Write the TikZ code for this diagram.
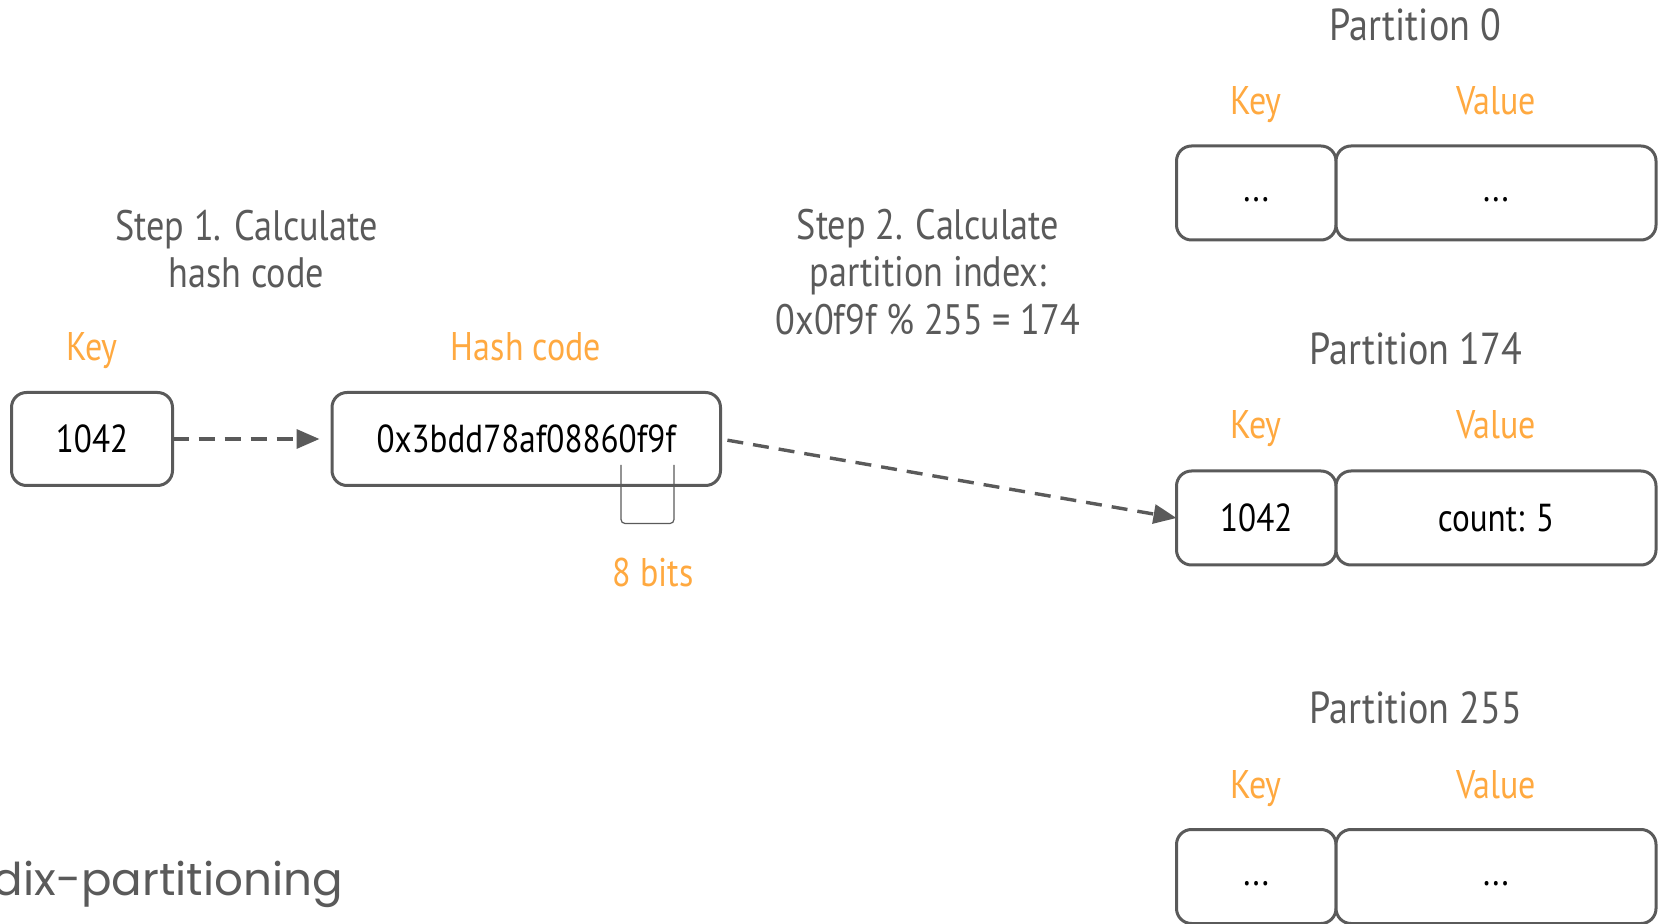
\documentclass[tikz,border=0pt]{standalone}
\usepackage{fontspec}
\setmainfont{PT Sans}[FakeStretch=0.85]
\newfontfamily\popfont{Poppins}
\usetikzlibrary{arrows.meta}
\definecolor{linegray}{HTML}{5A5A5A}
\definecolor{lblorange}{HTML}{FFA940}
\newcommand\myellip{\raisebox{2.5pt}{...}}
\tikzset{
  every node/.style={inner sep=0pt, outer sep=0pt},
  box/.style={draw=linegray, line width=1.5pt, rounded corners=7.5pt, minimum height=46.5pt, fill=white, text=black, font=\fontsize{19.5}{23}\selectfont, text height=13.6pt, text depth=0pt},
  lbl/.style={text=lblorange, font=\fontsize{20}{24}\selectfont, text height=0.72em, text depth=0.22em, yshift=-4.5pt},
  ttl/.style={text=linegray, font=\fontsize{21.3}{23.8}\selectfont, align=center},
  ptl/.style={text=linegray, font=\fontsize{22.4}{26}\selectfont, text height=0.72em, text depth=0.22em, yshift=-5.2pt},
  flow/.style={draw=linegray, line width=1.7pt, dash pattern=on 8pt off 5pt, -{Triangle[length=11.5pt, width=9.5pt]}},
}
\begin{document}
\begin{tikzpicture}[x=0.5pt, y=-0.5pt]
\useasboundingbox (0,0) rectangle (1659,924);
\clip (0,0) rectangle (1659,924);
% left part
\node[lbl] (keylbl) at (92,347) {Key};
\node[box, minimum width=80.5pt] (key) at (92,439) {1042};
\node[ttl] (step1) at (246.5,249) {Step 1. Calculate\\hash code};
\node[lbl] (hashlbl) at (526,347) {Hash code};
\node[box, minimum width=194.25pt] (hash) at (526.25,439) {0x3bdd78af08860f9f};
\coordinate (a1end) at (319.5,439);
\draw[flow] (key.east) -- (a1end);
% bracket
\coordinate (b1) at (621,465);
\coordinate (b2) at (674,465);
\draw[linegray, line width=0.6pt, rounded corners=2pt] (b1) -- (621,523.5) -- (674,523.5) -- (b2);
\node[lbl] (bits) at (653,573) {8 bits};
\node[ttl] (step2) at (928,272) {Step 2. Calculate\\partition index:\\0x0f9f \% 255 = 174};
% partitions
\foreach \n/\t/\ly/\by/\kt/\vt in {p0/Partition 0/100.5/193/\myellip/\myellip, p174/Partition 174/425/518/1042/count: 5, p255/Partition 255/784/876.5/\myellip/\myellip}{
  \node[ptl] (\n title) at (1415.6,\ly-75.5) {\t};
  \node[lbl] (\n keylbl) at (1256,\ly) {Key};
  \node[lbl] (\n vallbl) at (1496,\ly) {Value};
  \node[box, minimum width=79.75pt, minimum height=47pt] (\n key) at (1256.25,\by) {\kt};
  \node[box, minimum width=160pt, minimum height=47pt] (\n val) at (1496,\by) {\vt};
}
\draw[flow, shorten <=3.5pt] (hash.east) -- (p174key.west);
% footer
\node[anchor=west, text=linegray, font=\popfont\fontsize{22.6}{27}\selectfont] (footer) at (-7,884) {dix-partitioning};
\end{tikzpicture}
\end{document}
